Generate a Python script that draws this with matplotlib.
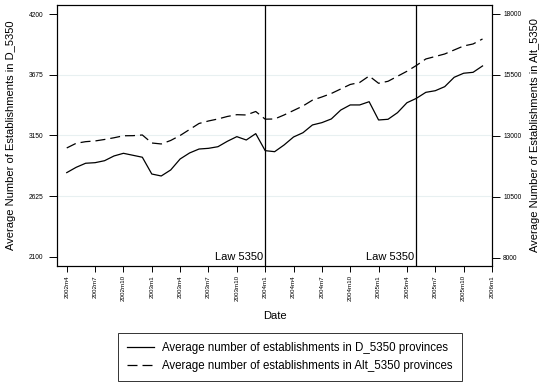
import matplotlib
matplotlib.use("Agg")
import matplotlib.pyplot as plt
import numpy as np

plt.rcParams['font.family'] = ['Liberation Sans', 'DejaVu Sans']

# Monthly observations, 2002m4 .. 2005m12
start_year, start_month = 2002, 4
d5350 = [2829, 2875, 2910, 2915, 2932, 2973, 2996, 2979, 2962, 2817,
         2800, 2852, 2947, 2999, 3033, 3039, 3053, 3100, 3140, 3111,
         3166, 3019, 3010, 3068, 3137, 3174, 3241, 3261, 3293, 3370,
         3414, 3414, 3442, 3284, 3290, 3347, 3433, 3471, 3523, 3537,
         3572, 3653, 3688, 3696, 3751]
alt5350 = [12509, 12701, 12767, 12796, 12857, 12927, 13009, 13013, 13041, 12713,
           12673, 12816, 13021, 13267, 13513, 13615, 13697, 13800, 13873, 13861,
           14004, 13689, 13697, 13861, 14045, 14230, 14468, 14599, 14742, 14927,
           15111, 15193, 15459, 15160, 15242, 15447, 15652, 15890, 16156, 16258,
           16361, 16525, 16689, 16771, 16976]

left_ticks = [2100, 2625, 3150, 3675, 4200]
right_ticks = [8000, 10500, 13000, 15500, 18000]
x_tick_labels = ["2002m4", "2002m7", "2002m10", "2003m1", "2003m4", "2003m7",
                 "2003m10", "2004m1", "2004m4", "2004m7", "2004m10", "2005m1",
                 "2005m4", "2005m7", "2005m10", "2006m1"]
law_dates = ["2004m1", "2005m5"]
law_label = "Law 5350"


def month_index(label):
    y, m = label.split("m")
    return (int(y) - start_year) * 12 + int(m) - start_month


t = np.arange(len(d5350))
x_ticks = [month_index(s) for s in x_tick_labels]

fig = plt.figure(figsize=(5.42, 3.83), dpi=100)
ax = fig.add_axes([0.1057, 0.3055, 0.802, 0.6815])
ax2 = ax.twinx()

grid_color = "#e8f0f1"
for v in left_ticks[1:-1]:
    ax.axhline(v, color=grid_color, lw=0.8, zorder=0)

l1, = ax.plot(t, d5350, color="black", lw=0.9,
              label="Average number of establishments in D_5350 provinces")
l2, = ax2.plot(t, alt5350, color="black", lw=0.9, dashes=(8, 4),
               label="Average number of establishments in Alt_5350 provinces")

ax.set_xlim(-1, 45)
ax.set_ylim(2022, 4278)
ax2.set_ylim(7672, 18369)

ax.set_yticks(left_ticks)
ax.set_yticklabels([str(v) for v in left_ticks], fontsize=4.8)
ax2.set_yticks(right_ticks)
ax2.set_yticklabels([str(v) for v in right_ticks], fontsize=4.8)
ax.set_xticks(x_ticks)
ax.set_xticklabels(x_tick_labels, rotation=90, fontsize=4.5)

ax.tick_params(axis="y", length=6, width=0.7, pad=4, color="black")
ax.tick_params(axis="x", length=4, width=0.7, pad=2.5, color="black")
ax2.tick_params(axis="y", length=5.5, width=0.7, pad=2.5, color="black")
for a in (ax, ax2):
    for s in a.spines.values():
        s.set_linewidth(0.8)

ax.set_xlabel("Date", fontsize=8, labelpad=7)
ax.set_ylabel("Average Number of Establishments in D_5350", fontsize=8, labelpad=9)
ax2.set_ylabel("Average Number of Establishments in Alt_5350", fontsize=8, labelpad=6)

for d in law_dates:
    xi = month_index(d)
    ax.axvline(xi, color="black", lw=0.9)
    ax.text(xi - 0.2, 2100, law_label, ha="right", va="center", fontsize=8)

leg = fig.legend(handles=[l1, l2], loc="upper left", bbox_to_anchor=(0.2177, 0.1305),
                 fontsize=8.3, frameon=True, fancybox=False, edgecolor="black",
                 handlelength=2.4, borderpad=0.75, labelspacing=0.55, handletextpad=0.7,
                 borderaxespad=0)
leg.get_frame().set_linewidth(0.7)

fig.savefig("out.png", dpi=100, facecolor="white")
